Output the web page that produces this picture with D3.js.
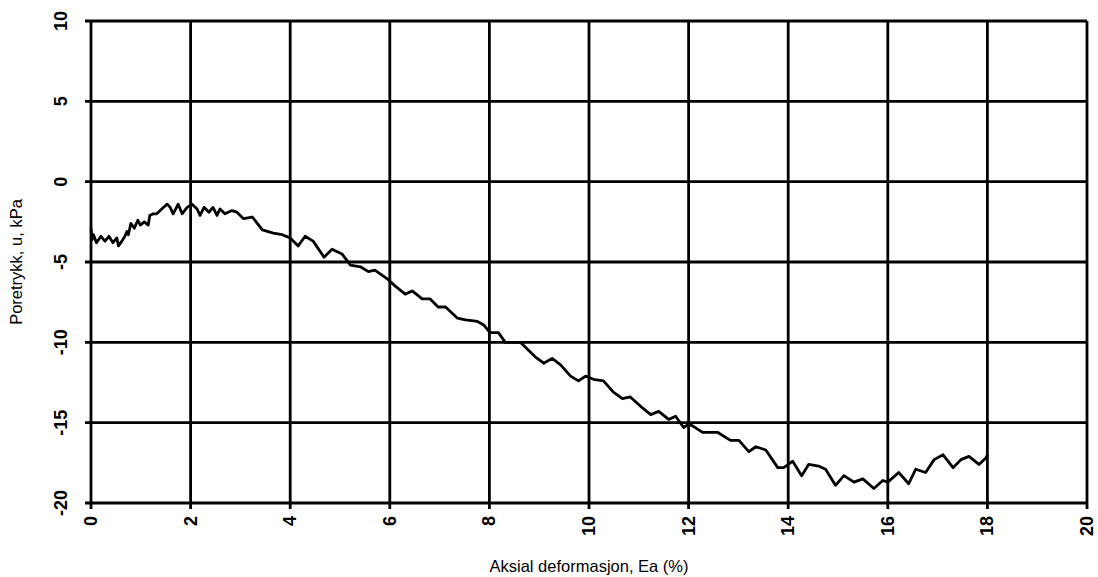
<!DOCTYPE html>
<html>
<head>
<meta charset="utf-8">
<script src="https://cdn.jsdelivr.net/npm/d3@7"></script>
<style>
  body { margin: 0; background: #fff; }
  svg { display: block; }
  .tick-label { font-family: "Liberation Sans", Arial, sans-serif; font-size: 18px; font-weight: bold; }
  .axis-title { font-family: "Liberation Sans", Arial, sans-serif; font-size: 16.5px; }
</style>
</head>
<body>
<svg id="chart" width="1098" height="577"></svg>
<script>
// axial strain (%)
var strain = [0, 0.02, 0.05, 0.11, 0.2, 0.28, 0.36, 0.44, 0.52, 0.55, 0.62, 0.68, 0.72, 0.75, 0.8, 0.87, 0.94, 0.99,
  1.07, 1.15, 1.18, 1.25, 1.32, 1.42, 1.53, 1.59, 1.65, 1.75, 1.83, 1.93, 2.03, 2.13, 2.19, 2.27, 2.37, 2.45, 2.53,
  2.59, 2.69, 2.83, 2.93, 3.06, 3.24, 3.44, 3.66, 3.84, 4.0, 4.16, 4.3, 4.46, 4.68, 4.84, 5.04, 5.21, 5.41, 5.57,
  5.7, 5.97, 6.11, 6.31, 6.45, 6.65, 6.81, 6.97, 7.12, 7.36, 7.52, 7.76, 7.88, 7.96, 8.02, 8.18, 8.32, 8.62, 8.92,
  9.09, 9.26, 9.43, 9.63, 9.79, 9.93, 10.09, 10.29, 10.49, 10.67, 10.83, 11.08, 11.24, 11.4, 11.6, 11.74, 11.9,
  12.0, 12.08, 12.28, 12.58, 12.84, 13.01, 13.21, 13.35, 13.55, 13.79, 13.91, 14.09, 14.27, 14.41, 14.61, 14.75,
  14.95, 15.12, 15.32, 15.5, 15.72, 15.9, 16.0, 16.22, 16.42, 16.56, 16.76, 16.93, 17.11, 17.31, 17.47, 17.63,
  17.83, 17.97, 18.0];
// pore pressure (kPa)
var poreP = [-2.9, -3.6, -3.3, -3.8, -3.4, -3.7, -3.4, -3.8, -3.5, -4.0, -3.7, -3.4, -3.1, -3.3, -2.6, -2.9, -2.4, -2.7,
  -2.5, -2.7, -2.1, -2.0, -2.0, -1.7, -1.4, -1.6, -2.0, -1.4, -2.0, -1.6, -1.4, -1.7, -2.1, -1.6, -1.9, -1.6, -2.1,
  -1.7, -2.0, -1.8, -1.9, -2.3, -2.2, -3.0, -3.2, -3.3, -3.5, -4.0, -3.4, -3.7, -4.7, -4.2, -4.5, -5.2, -5.3, -5.6,
  -5.5, -6.1, -6.5, -7.0, -6.8, -7.3, -7.3, -7.8, -7.8, -8.5, -8.6, -8.7, -8.9, -9.2, -9.4, -9.4, -10.0, -10.0, -10.9,
  -11.3, -11.0, -11.4, -12.1, -12.4, -12.1, -12.3, -12.4, -13.1, -13.5, -13.4, -14.1, -14.5, -14.3, -14.8, -14.6, -15.3,
  -15.1, -15.2, -15.6, -15.6, -16.1, -16.1, -16.8, -16.5, -16.7, -17.8, -17.8, -17.4, -18.3, -17.6, -17.7, -17.9,
  -18.9, -18.3, -18.7, -18.5, -19.1, -18.6, -18.7, -18.1, -18.8, -17.9, -18.1, -17.3, -17.0, -17.8, -17.3, -17.1,
  -17.6, -17.2, -17.0];
var xTicks = [0, 2, 4, 6, 8, 10, 12, 14, 16, 18, 20];
var yTicks = [10, 5, 0, -5, -10, -15, -20];

var plotL = 91, plotR = 1087, plotT = 21, plotB = 503;

var svg = d3.select('#chart');
var x = d3.scaleLinear().domain([0, 20]).range([plotL, plotR]);
var y = d3.scaleLinear().domain([-20, 10]).range([plotB, plotT]);

// grid
svg.append('g')
  .selectAll('line')
  .data(xTicks)
  .enter()
  .append('line')
  .attr('x1', function(d) { return x(d); })
  .attr('x2', function(d) { return x(d); })
  .attr('y1', plotT)
  .attr('y2', plotB + 6)
  .attr('stroke', '#000')
  .attr('stroke-width', 2.8);

svg.append('g')
  .selectAll('line')
  .data(yTicks)
  .enter()
  .append('line')
  .attr('x1', plotL - 6)
  .attr('x2', plotR)
  .attr('y1', function(d) { return y(d); })
  .attr('y2', function(d) { return y(d); })
  .attr('stroke', '#000')
  .attr('stroke-width', 2.8);

// tick labels, both rotated
svg.append('g')
  .selectAll('text')
  .data(yTicks)
  .enter()
  .append('text')
  .attr('class', 'tick-label')
  .attr('text-anchor', 'middle')
  .attr('transform', function(d) { return 'translate(67,' + y(d) + ') rotate(-90)'; })
  .text(function(d) { return d; });

svg.append('g')
  .selectAll('text')
  .data(xTicks)
  .enter()
  .append('text')
  .attr('class', 'tick-label')
  .attr('text-anchor', 'end')
  .attr('transform', function(d) { return 'translate(' + (x(d) + 6) + ',516) rotate(-90)'; })
  .text(function(d) { return d; });

// the curve
var pts = strain.map(function(d, i) { return [d, poreP[i]]; });
var line = d3.line()
  .x(function(d) { return x(d[0]); })
  .y(function(d) { return y(d[1]); });

svg.append('path')
  .datum(pts)
  .attr('d', line)
  .attr('fill', 'none')
  .attr('stroke', '#000')
  .attr('stroke-width', 2.8)
  .attr('stroke-linejoin', 'round');

// axis titles
svg.append('text')
  .attr('class', 'axis-title')
  .attr('text-anchor', 'middle')
  .attr('transform', 'translate(22,' + ((plotT + plotB) / 2) + ') rotate(-90)')
  .text('Poretrykk, u, kPa');

svg.append('text')
  .attr('class', 'axis-title')
  .attr('text-anchor', 'middle')
  .attr('x', (plotL + plotR) / 2)
  .attr('y', 572)
  .text('Aksial deformasjon, Ea (%)');
</script>
</body>
</html>
